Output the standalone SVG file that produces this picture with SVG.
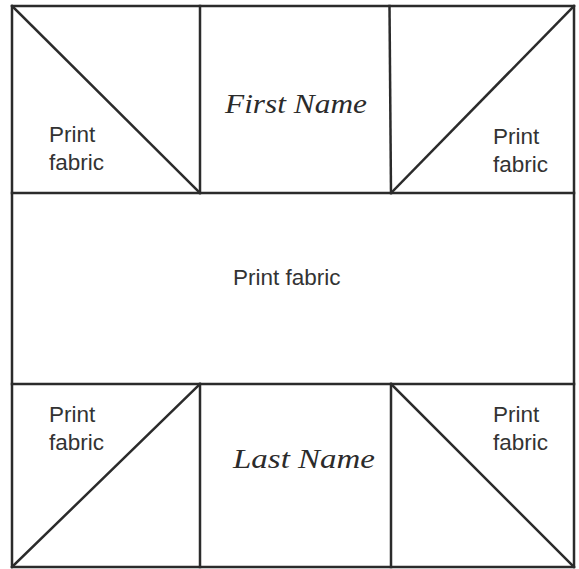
<svg xmlns="http://www.w3.org/2000/svg" width="579" height="569" viewBox="0 0 579 569">
<style>
.ln{stroke:#2b2b2b;stroke-width:2.5;fill:none;stroke-linecap:square}
.lbl{font-family:"Liberation Sans",Arial,sans-serif;font-size:22.5px;fill:#333}
.nm{font-family:"Liberation Serif","DejaVu Serif",serif;font-style:italic;font-size:27px;fill:#2b2b2b}
</style>
<rect x="0" y="0" width="579" height="569" fill="#fff"/>
<g id="connectors">
<rect class="ln" x="12" y="6" width="562" height="561"/>
<line class="ln" x1="12" y1="193" x2="574" y2="193"/>
<line class="ln" x1="12" y1="384" x2="574" y2="384"/>
<line class="ln" x1="200" y1="6" x2="200" y2="193"/>
<line class="ln" x1="389.5" y1="6" x2="391" y2="193"/>
<line class="ln" x1="200" y1="384" x2="200" y2="567"/>
<line class="ln" x1="391" y1="384" x2="391" y2="567"/>
<line class="ln" x1="12" y1="6" x2="200" y2="193"/>
<line class="ln" x1="391" y1="193" x2="574" y2="6"/>
<line class="ln" x1="12" y1="567" x2="200" y2="384"/>
<line class="ln" x1="391" y1="384" x2="574" y2="567"/>
</g>
<g id="top-left"><text class="lbl" x="49" y="142">Print</text><text class="lbl" x="49" y="170">fabric</text></g>
<g id="top-center"><text class="nm" x="225" y="113" textLength="142" lengthAdjust="spacingAndGlyphs">First Name</text></g>
<g id="top-right"><text class="lbl" x="493" y="144">Print</text><text class="lbl" x="493" y="172">fabric</text></g>
<g id="middle"><text class="lbl" x="233" y="285">Print fabric</text></g>
<g id="bottom-left"><text class="lbl" x="49" y="422">Print</text><text class="lbl" x="49" y="450">fabric</text></g>
<g id="bottom-center"><text class="nm" x="233" y="468" textLength="142" lengthAdjust="spacingAndGlyphs">Last Name</text></g>
<g id="bottom-right"><text class="lbl" x="493" y="422">Print</text><text class="lbl" x="493" y="450">fabric</text></g>
</svg>
